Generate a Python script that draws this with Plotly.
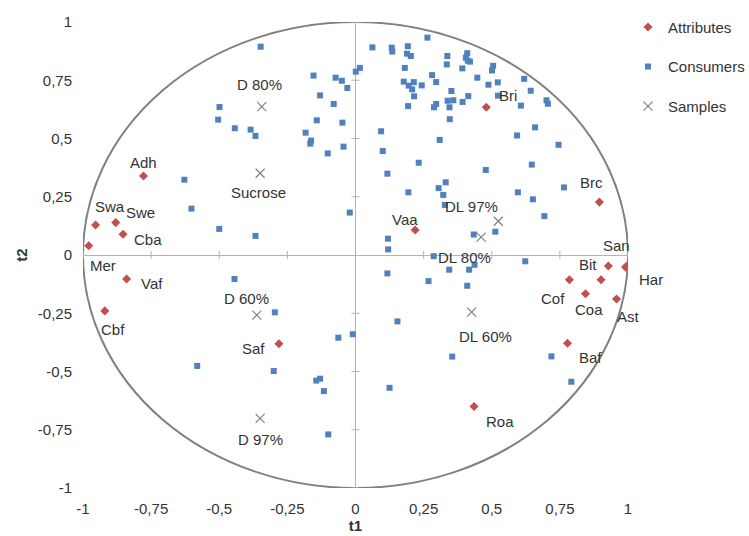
import plotly.graph_objects as go

# ---------------- data ----------------
attr_names = ["Adh", "Swa", "Swe", "Cba", "Mer", "Vaf", "Cbf", "Saf", "Bri", "Vaa",
              "Brc", "San", "Bit", "Har", "Cof", "", "Coa", "Ast", "Baf", "Roa"]
attr_t1 = [-0.778, -0.954, -0.880, -0.853, -0.979, -0.840, -0.920, -0.281, 0.480, 0.219,
           0.895, 0.997, 0.928, 0.991, 0.785, 0.901, 0.844, 0.958, 0.778, 0.435]
attr_t2 = [0.339, 0.129, 0.139, 0.089, 0.040, -0.103, -0.240, -0.381, 0.634, 0.107,
           0.227, -0.047, -0.047, -0.052, -0.106, -0.106, -0.166, -0.189, -0.379, -0.650]

sample_names = ["D 80%", "Sucrose", "D 60%", "D 97%", "DL 97%", "DL 80%", "DL 60%"]
sample_t1 = [-0.344, -0.350, -0.362, -0.350, 0.524, 0.461, 0.426]
sample_t2 = [0.637, 0.351, -0.258, -0.701, 0.145, 0.077, -0.245]

cons_t1 = [-0.348, -0.154, -0.073, -0.050, -0.030, 0.001, 0.016, -0.130, -0.080, -0.499,
           -0.504, -0.142, -0.048, -0.443, -0.385, -0.367, -0.183, -0.163, -0.166, -0.044,
           -0.102, -0.021, -0.628, -0.602, -0.500, -0.367, 0.264, 0.062, 0.133, 0.135,
           0.192, 0.189, 0.203, 0.337, 0.335, 0.410, 0.405, 0.412, 0.420, 0.181,
           0.281, 0.296, 0.392, 0.505, 0.501, 0.447, 0.522, 0.488, 0.177, 0.195,
           0.214, 0.208, 0.243, 0.215, 0.352, 0.338, 0.359, 0.393, 0.414, 0.296,
           0.288, 0.345, 0.193, 0.346, 0.523, 0.094, 0.309, 0.100, 0.619, 0.643,
           0.701, 0.706, 0.607, 0.659, 0.593, 0.745, 0.647, 0.232, 0.117, 0.305,
           0.331, 0.322, 0.328, 0.194, 0.478, 0.596, 0.651, 0.765, 0.693, 0.119,
           0.120, 0.434, 0.513, 0.287, 0.117, 0.344, 0.417, 0.437, 0.623, 0.268,
           0.410, 0.154, -0.010, -0.063, 0.355, 0.719, 0.792, 0.125, -0.444, -0.296,
           -0.581, -0.300, -0.144, -0.130, -0.116, -0.100]
cons_t2 = [0.894, 0.770, 0.761, 0.748, 0.717, 0.787, 0.803, 0.685, 0.648, 0.635,
           0.581, 0.578, 0.568, 0.544, 0.538, 0.511, 0.525, 0.491, 0.478, 0.465,
           0.436, 0.182, 0.323, 0.199, 0.112, 0.082, 0.933, 0.891, 0.890, 0.873,
           0.896, 0.864, 0.854, 0.854, 0.818, 0.866, 0.847, 0.834, 0.830, 0.803,
           0.772, 0.742, 0.801, 0.812, 0.792, 0.761, 0.741, 0.731, 0.744, 0.727,
           0.742, 0.711, 0.728, 0.681, 0.704, 0.662, 0.664, 0.657, 0.682, 0.648,
           0.634, 0.634, 0.639, 0.583, 0.684, 0.531, 0.494, 0.446, 0.756, 0.705,
           0.664, 0.649, 0.641, 0.548, 0.513, 0.473, 0.388, 0.396, 0.349, 0.287,
           0.312, 0.258, 0.215, 0.269, 0.365, 0.269, 0.239, 0.290, 0.167, 0.070,
           0.024, 0.088, 0.100, -0.005, -0.079, -0.063, -0.063, -0.042, -0.027, -0.112,
           -0.132, -0.285, -0.340, -0.355, -0.436, -0.435, -0.544, -0.570, -0.103, -0.246,
           -0.476, -0.498, -0.539, -0.531, -0.584, -0.770]

tick_vals = [-1, -0.75, -0.5, -0.25, 0, 0.25, 0.5, 0.75, 1]
tick_text = ["-1", "-0,75", "-0,5", "-0,25", "0", "0,25", "0,5", "0,75", "1"]

# label offsets in pixels (style)
label_offsets = {
    "Adh": (0, 14), "Swa": (14, 18), "Swe": (25, 10), "Cba": (25, -5), "Mer": (14, -20),
    "Vaf": (25, -4), "Cbf": (8, -19), "Saf": (-25, -5), "Bri": (22, 12), "Vaa": (-10, 11),
    "Brc": (-8, 20), "San": (-11, 20), "Bit": (-20, 1), "Har": (25, -12), "Cof": (-16, -19),
    "Coa": (4, -16), "Ast": (12, -17), "Baf": (23, -14), "Roa": (26, -15),
    "D 80%": (-2, 22), "Sucrose": (-2, -19), "D 60%": (-10, 17), "D 97%": (0, -21),
    "DL 97%": (-27, 15), "DL 80%": (-17, -20), "DL 60%": (14, -24),
}

FONT = "Liberation Sans, Arial, sans-serif"
TXT = "#333333"
RED = "#C0504D"
BLUE = "#4F81BD"
GREY = "#808080"
AXC = "#B3B3B3"

fig = go.Figure()
fig.add_trace(go.Scatter(x=attr_t1, y=attr_t2, mode="markers", name="Attributes",
                         legendgroup="a", text=attr_names,
                         marker=dict(symbol="diamond", size=7, color=RED,
                                     line=dict(width=0))))
fig.add_trace(go.Scatter(x=cons_t1, y=cons_t2, mode="markers", name="Consumers",
                         legendgroup="c",
                         marker=dict(symbol="square", size=6, color=BLUE,
                                     line=dict(width=0))))
fig.add_trace(go.Scatter(x=sample_t1, y=sample_t2, mode="markers", name="Samples",
                         legendgroup="s", text=sample_names,
                         marker=dict(symbol="x-thin", size=9, color=GREY,
                                     line=dict(width=1.2, color=GREY))))

annotations = []
for nm, x, y in list(zip(attr_names, attr_t1, attr_t2)) + list(zip(sample_names, sample_t1, sample_t2)):
    if not nm:
        continue
    dx, dy = label_offsets.get(nm, (0, 0))
    annotations.append(dict(x=x, y=y, xref="x", yref="y", text=nm, showarrow=False,
                            xshift=dx, yshift=dy,
                            font=dict(family=FONT, size=15, color=TXT)))

shapes = [dict(type="circle", xref="x", yref="y", x0=-1, y0=-1, x1=1, y1=1,
               line=dict(color=GREY, width=2), layer="below")]
for v in tick_vals:
    if v == 0:
        continue
    shapes.append(dict(type="line", xref="x", yref="y", x0=v, x1=v,
                       ysizemode="pixel", yanchor=0, y0=-4, y1=4,
                       line=dict(color=AXC, width=1), layer="below"))
    shapes.append(dict(type="line", xref="x", yref="y", y0=v, y1=v,
                       xsizemode="pixel", xanchor=0, x0=-4, x1=4,
                       line=dict(color=AXC, width=1), layer="below"))

fig.update_layout(
    width=749, height=536,
    margin=dict(l=83, r=121, t=22, b=48, autoexpand=False),
    paper_bgcolor="white", plot_bgcolor="white",
    font=dict(family=FONT, size=15, color=TXT),
    showlegend=True,
    legend=dict(x=1.0, y=1.024, xanchor="left", yanchor="top",
                font=dict(family=FONT, size=15, color=TXT),
                tracegroupgap=17, traceorder="grouped",
                bgcolor="rgba(0,0,0,0)", itemwidth=30),
    annotations=annotations,
    shapes=shapes,
    xaxis=dict(range=[-1, 1], tickvals=tick_vals, ticktext=tick_text,
               showgrid=False, zeroline=True, zerolinecolor=AXC, zerolinewidth=1,
               showline=False, ticks="", ticklabelstandoff=10,
               title=dict(text="<b>t1</b>", standoff=4,
                          font=dict(family=FONT, size=15, color=TXT)),
               tickfont=dict(family=FONT, size=15, color=TXT), automargin=False),
    yaxis=dict(range=[-1, 1], tickvals=tick_vals, ticktext=tick_text,
               showgrid=False, zeroline=True, zerolinecolor=AXC, zerolinewidth=1,
               showline=False, ticks="", ticklabelstandoff=10,
               title=dict(text="<b>t2</b>", standoff=6,
                          font=dict(family=FONT, size=15, color=TXT)),
               tickfont=dict(family=FONT, size=15, color=TXT), automargin=False),
)

fig.write_html("out.html")
